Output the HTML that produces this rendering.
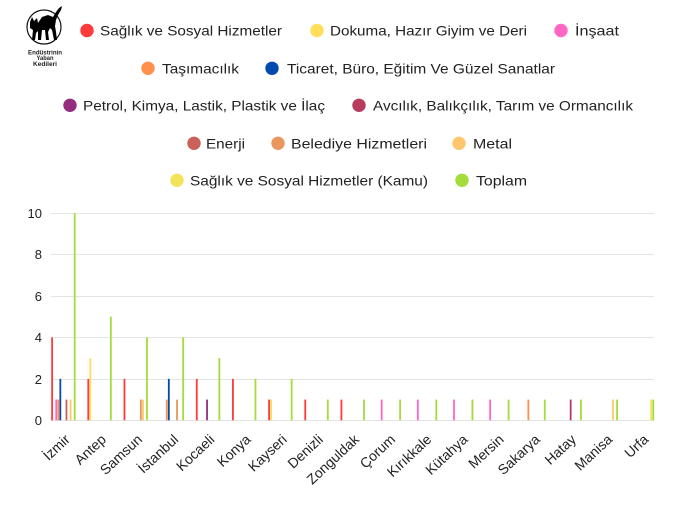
<!DOCTYPE html>
<html><head><meta charset="utf-8"><style>
html,body{margin:0;padding:0;background:#fff;}
svg{display:block;}
</style></head><body>
<svg width="680" height="510" viewBox="0 0 680 510" xmlns="http://www.w3.org/2000/svg" font-family="'Liberation Sans', sans-serif">
<rect width="680" height="510" fill="#fff"/>
<!-- logo -->
<circle cx="44" cy="27" r="17" fill="none" stroke="#111" stroke-width="1.2"/>
<path d="M30,22 L32,17 L34,21 L37,18 L38,23 L42,17 L48,15 L53,17 L56,12 L59,8 L62,6 L61,10 L58,15 L56,20 L55,26 L56,32 L57,40 L54,40 L52,30 L50,28 L48,32 L49,40 L46,40 L45,30 L42,30 L41,40 L38,40 L38,31 L36,33 L35,40 L32,40 L33,30 L30,28 Z" fill="#000"/>
<g font-weight="bold" font-size="6.3" fill="#222" text-anchor="middle">
<text x="45" y="54.5" textLength="34" lengthAdjust="spacingAndGlyphs">Endüstrinin</text>
<text x="45" y="60" textLength="17" lengthAdjust="spacingAndGlyphs">Yaban</text>
<text x="45" y="66" textLength="24" lengthAdjust="spacingAndGlyphs">Kedileri</text>
</g>
<!-- legend -->
<g font-size="14" fill="#222">
<circle cx="87" cy="30.5" r="6.7" fill="#ff3a3a"/><text x="100" y="35.5" textLength="182" lengthAdjust="spacingAndGlyphs">Sağlık ve Sosyal Hizmetler</text>
<circle cx="317" cy="30.5" r="6.7" fill="#ffde59"/><text x="330" y="35.5" textLength="197" lengthAdjust="spacingAndGlyphs">Dokuma, Hazır Giyim ve Deri</text>
<circle cx="561" cy="30.5" r="6.7" fill="#ff66c4"/><text x="575" y="35.5" textLength="44" lengthAdjust="spacingAndGlyphs">İnşaat</text>

<circle cx="148" cy="68.3" r="6.7" fill="#ff914d"/><text x="162" y="73.3" textLength="77" lengthAdjust="spacingAndGlyphs">Taşımacılık</text>
<circle cx="272" cy="68.3" r="6.7" fill="#004aad"/><text x="287" y="73.3" textLength="268" lengthAdjust="spacingAndGlyphs">Ticaret, Büro, Eğitim Ve Güzel Sanatlar</text>

<circle cx="70" cy="105.3" r="6.7" fill="#952d7e"/><text x="83" y="110.3" textLength="242" lengthAdjust="spacingAndGlyphs">Petrol, Kimya, Lastik, Plastik ve İlaç</text>
<circle cx="359" cy="105.3" r="6.7" fill="#b83b5e"/><text x="373" y="110.3" textLength="260" lengthAdjust="spacingAndGlyphs">Avcılık, Balıkçılık, Tarım ve Ormancılık</text>

<circle cx="194" cy="143.3" r="6.7" fill="#c9625a"/><text x="206" y="148.3" textLength="39" lengthAdjust="spacingAndGlyphs">Enerji</text>
<circle cx="278" cy="143.3" r="6.7" fill="#e9965f"/><text x="291" y="148.3" textLength="136" lengthAdjust="spacingAndGlyphs">Belediye Hizmetleri</text>
<circle cx="459" cy="143.3" r="6.7" fill="#ffc66d"/><text x="473" y="148.3" textLength="39" lengthAdjust="spacingAndGlyphs">Metal</text>

<circle cx="177" cy="180.3" r="6.7" fill="#f2e35a"/><text x="190" y="185.3" textLength="238" lengthAdjust="spacingAndGlyphs">Sağlık ve Sosyal Hizmetler (Kamu)</text>
<circle cx="462" cy="180.3" r="6.7" fill="#a4dc3c"/><text x="476" y="185.3" textLength="51" lengthAdjust="spacingAndGlyphs">Toplam</text>
</g>
<!-- grid -->
<g stroke="#e4e4e4" stroke-width="1">
<line x1="51" y1="213.5" x2="654" y2="213.5"/>
<line x1="51" y1="254.5" x2="654" y2="254.5"/>
<line x1="51" y1="296.5" x2="654" y2="296.5"/>
<line x1="51" y1="337.5" x2="654" y2="337.5"/>
<line x1="51" y1="379.5" x2="654" y2="379.5"/>
<line x1="51" y1="420.5" x2="654" y2="420.5"/>
</g>
<g font-size="13" fill="#222" text-anchor="end">
<text x="42" y="218">10</text>
<text x="42" y="259">8</text>
<text x="42" y="301">6</text>
<text x="42" y="342">4</text>
<text x="42" y="384">2</text>
<text x="42" y="425">0</text>
</g>
<!-- bars -->
<g>
<rect x="51.23" y="337.42" width="1.8" height="82.88" fill="#ff3a3a"/>
<rect x="55.33" y="399.58" width="1.8" height="20.72" fill="#ff66c4"/>
<rect x="57.38" y="399.58" width="1.8" height="20.72" fill="#ff914d"/>
<rect x="59.43" y="378.86" width="1.8" height="41.44" fill="#004aad"/>
<rect x="65.58" y="399.58" width="1.8" height="20.72" fill="#c9625a"/>
<rect x="69.68" y="399.58" width="1.8" height="20.72" fill="#ffc66d"/>
<rect x="73.78" y="213.1" width="1.8" height="207.2" fill="#a4dc3c"/>
<rect x="87.39" y="378.86" width="1.8" height="41.44" fill="#ff3a3a"/>
<rect x="89.44" y="358.14" width="1.8" height="62.16" fill="#ffde59"/>
<rect x="109.94" y="316.7" width="1.8" height="103.6" fill="#a4dc3c"/>
<rect x="123.55" y="378.86" width="1.8" height="41.44" fill="#ff3a3a"/>
<rect x="139.95" y="399.58" width="1.8" height="20.72" fill="#e9965f"/>
<rect x="142.0" y="399.58" width="1.8" height="20.72" fill="#ffc66d"/>
<rect x="146.1" y="337.42" width="1.8" height="82.88" fill="#a4dc3c"/>
<rect x="165.86" y="399.58" width="1.8" height="20.72" fill="#ff914d"/>
<rect x="167.91" y="378.86" width="1.8" height="41.44" fill="#004aad"/>
<rect x="176.11" y="399.58" width="1.8" height="20.72" fill="#e9965f"/>
<rect x="182.26" y="337.42" width="1.8" height="82.88" fill="#a4dc3c"/>
<rect x="195.87" y="378.86" width="1.8" height="41.44" fill="#ff3a3a"/>
<rect x="206.12" y="399.58" width="1.8" height="20.72" fill="#952d7e"/>
<rect x="218.42" y="358.14" width="1.8" height="62.16" fill="#a4dc3c"/>
<rect x="232.03" y="378.86" width="1.8" height="41.44" fill="#ff3a3a"/>
<rect x="254.58" y="378.86" width="1.8" height="41.44" fill="#a4dc3c"/>
<rect x="268.19" y="399.58" width="1.8" height="20.72" fill="#ff3a3a"/>
<rect x="270.24" y="399.58" width="1.8" height="20.72" fill="#ffde59"/>
<rect x="290.74" y="378.86" width="1.8" height="41.44" fill="#a4dc3c"/>
<rect x="304.35" y="399.58" width="1.8" height="20.72" fill="#ff3a3a"/>
<rect x="326.9" y="399.58" width="1.8" height="20.72" fill="#a4dc3c"/>
<rect x="340.51" y="399.58" width="1.8" height="20.72" fill="#ff3a3a"/>
<rect x="363.06" y="399.58" width="1.8" height="20.72" fill="#a4dc3c"/>
<rect x="380.77" y="399.58" width="1.8" height="20.72" fill="#ff66c4"/>
<rect x="399.22" y="399.58" width="1.8" height="20.72" fill="#a4dc3c"/>
<rect x="416.93" y="399.58" width="1.8" height="20.72" fill="#ff66c4"/>
<rect x="435.38" y="399.58" width="1.8" height="20.72" fill="#a4dc3c"/>
<rect x="453.09" y="399.58" width="1.8" height="20.72" fill="#ff66c4"/>
<rect x="471.54" y="399.58" width="1.8" height="20.72" fill="#a4dc3c"/>
<rect x="489.25" y="399.58" width="1.8" height="20.72" fill="#ff66c4"/>
<rect x="507.7" y="399.58" width="1.8" height="20.72" fill="#a4dc3c"/>
<rect x="527.46" y="399.58" width="1.8" height="20.72" fill="#ff914d"/>
<rect x="543.86" y="399.58" width="1.8" height="20.72" fill="#a4dc3c"/>
<rect x="569.77" y="399.58" width="1.8" height="20.72" fill="#b83b5e"/>
<rect x="580.02" y="399.58" width="1.8" height="20.72" fill="#a4dc3c"/>
<rect x="612.08" y="399.58" width="1.8" height="20.72" fill="#ffc66d"/>
<rect x="616.18" y="399.58" width="1.8" height="20.72" fill="#a4dc3c"/>
<rect x="650.29" y="399.58" width="1.8" height="20.72" fill="#f2e35a"/>
<rect x="652.34" y="399.58" width="1.8" height="20.72" fill="#a4dc3c"/>
</g>
<!-- x labels -->
<g font-size="14" fill="#222" text-anchor="end">
<text transform="translate(67.4,437) rotate(-43)" dy="0.35em">İzmir</text>
<text transform="translate(103.6,437) rotate(-43)" dy="0.35em">Antep</text>
<text transform="translate(139.7,437) rotate(-43)" dy="0.35em">Samsun</text>
<text transform="translate(175.9,437) rotate(-43)" dy="0.35em">İstanbul</text>
<text transform="translate(212.0,437) rotate(-43)" dy="0.35em">Kocaeli</text>
<text transform="translate(248.2,437) rotate(-43)" dy="0.35em">Konya</text>
<text transform="translate(284.4,437) rotate(-43)" dy="0.35em">Kayseri</text>
<text transform="translate(320.5,437) rotate(-43)" dy="0.35em">Denizli</text>
<text transform="translate(356.7,437) rotate(-43)" dy="0.35em">Zonguldak</text>
<text transform="translate(392.8,437) rotate(-43)" dy="0.35em">Çorum</text>
<text transform="translate(429.0,437) rotate(-43)" dy="0.35em">Kırıkkale</text>
<text transform="translate(465.2,437) rotate(-43)" dy="0.35em">Kütahya</text>
<text transform="translate(501.3,437) rotate(-43)" dy="0.35em">Mersin</text>
<text transform="translate(537.5,437) rotate(-43)" dy="0.35em">Sakarya</text>
<text transform="translate(573.6,437) rotate(-43)" dy="0.35em">Hatay</text>
<text transform="translate(609.8,437) rotate(-43)" dy="0.35em">Manisa</text>
<text transform="translate(646.0,437) rotate(-43)" dy="0.35em">Urfa</text>
</g>
</svg>
</body></html>
